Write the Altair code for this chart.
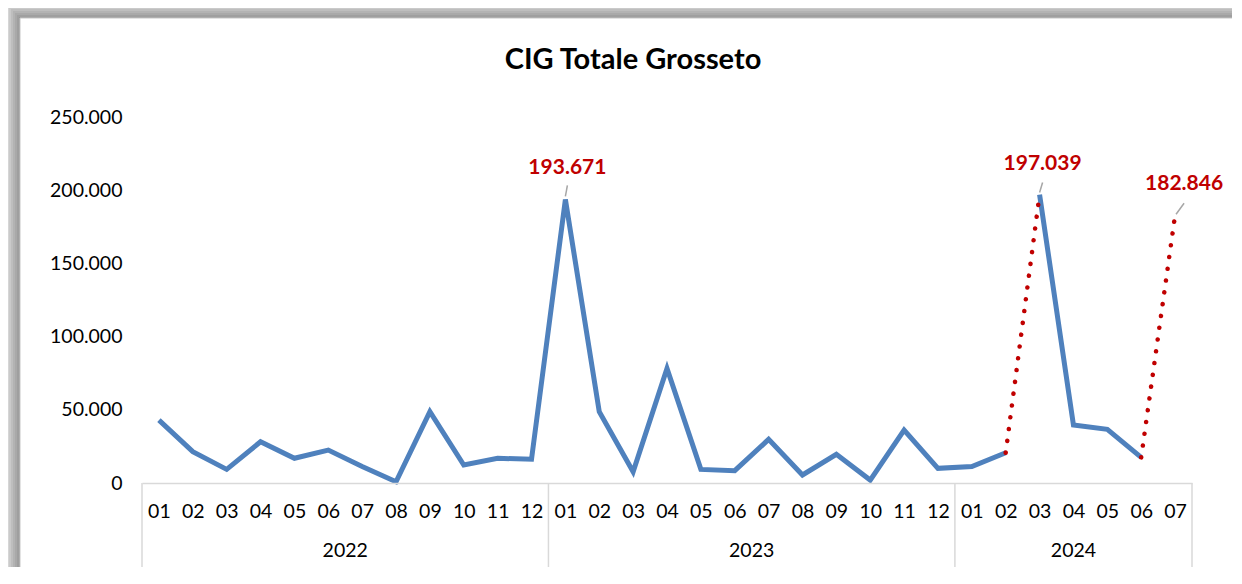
import altair as alt
import pandas as pd

# ---------------- data ----------------
years = ["2022", "2023", "2024"]
months_per_year = [12, 12, 7]
month_labels = (
    ["01", "02", "03", "04", "05", "06", "07", "08", "09", "10", "11", "12"]
    + ["01", "02", "03", "04", "05", "06", "07", "08", "09", "10", "11", "12"]
    + ["01", "02", "03", "04", "05", "06", "07"]
)
values = [
    # 2022
    43000, 21400, 9300, 28200, 16900, 22500, 11300, 800, 48700, 12300, 16900, 16200,
    # 2023
    193671, 48700, 7700, 78300, 9300, 8400, 29800, 5500, 19600, 2000, 36200, 10000,
    # 2024
    11200, 20700, 197039, 39600, 36700, 17500, 182846,
]
# index ranges of the solid (blue) segments and of the dotted (red) jumps
solid_segments = [(0, 25), (26, 29)]
dotted_segments = [(25, 26), (29, 30)]
labelled_points = [12, 26, 30]

FONT = "Lato"
BLUE = "#4F81BD"
RED = "#C00000"
GRID = "#D9D9D9"
AXFS = 19.5


def it(v):
    return f"{v:,}".replace(",", ".")


n = len(values)
pos = [i + 0.5 for i in range(n)]

solid_rows = []
for s, (a, b) in enumerate(solid_segments):
    for i in range(a, b + 1):
        solid_rows.append({"pos": pos[i], "value": values[i], "seg": f"s{s}"})
solid_df = pd.DataFrame(solid_rows)

dot_rows = []
for s, (a, b) in enumerate(dotted_segments):
    for i in range(a, b + 1):
        dot_rows.append({"pos": pos[i], "value": values[i], "seg": f"d{s}"})
dot_df = pd.DataFrame(dot_rows)

lab_df = [
    pd.DataFrame({"pos": [pos[i]], "value": [values[i]], "txt": [it(values[i])]})
    for i in labelled_points
]

bounds = [0]
for m in months_per_year:
    bounds.append(bounds[-1] + m)
sep_df = pd.DataFrame({"pos": bounds})
year_df = pd.DataFrame(
    {"pos": [(bounds[k] + bounds[k + 1]) / 2 for k in range(len(years))], "year": years}
)

# ---------------- encodings ----------------
months_js = "[" + ",".join(f"'{m}'" for m in month_labels) + "]"
X = alt.X(
    "pos:Q",
    scale=alt.Scale(domain=[0, n], nice=False, zero=False),
    axis=alt.Axis(
        values=pos,
        labelExpr=months_js + "[floor(datum.value)]",
        title=None,
        grid=False,
        ticks=False,
        tickSize=0,
        domain=True,
        domainColor=GRID,
        domainWidth=1.5,
        labelFont=FONT,
        labelFontSize=AXFS,
        labelColor="#000000",
        labelBaseline="middle",
        labelPadding=28,
        labelAngle=0,
        labelOverlap=False,
        labelFlush=False,
        zindex=1,
    ),
)
Y = alt.Y(
    "value:Q",
    scale=alt.Scale(domain=[0, 250000], nice=False),
    axis=alt.Axis(
        values=[0, 50000, 100000, 150000, 200000, 250000],
        labelExpr="replace(format(datum.value, ','), ',', '.')",
        title=None,
        grid=False,
        ticks=False,
        tickSize=0,
        domain=False,
        labelFont=FONT,
        labelFontSize=AXFS,
        labelColor="#000000",
        labelPadding=20,
        zindex=1,
    ),
)

one = pd.DataFrame({"a": [0]})
OX, OY = 142, 117  # plot origin on the page


def deco_rect(x1, y1, x2, y2, **kw):
    return alt.Chart(one).mark_rect(**kw).encode(
        x=alt.value(x1 - OX), x2=alt.value(x2 - OX),
        y=alt.value(y1 - OY), y2=alt.value(y2 - OY),
    )


layers = []
# frame shadow
for k in range(9):
    layers.append(deco_rect(3 + 2 * k, 1 + 2 * k, 1400, 700, fill="#000000", opacity=0.055))
layers.append(deco_rect(20, 18, 1400, 700, fill="#FFFFFF", stroke="#C8C8C8", strokeWidth=1))

# title
layers.append(
    alt.Chart(one).mark_text(
        text="CIG Totale Grosseto", font=FONT, fontSize=29, fontWeight="bold",
        color="#000000", align="center", baseline="middle",
    ).encode(x=alt.value(633 - OX), y=alt.value(60 - OY))
)

# year separators and labels
layers.append(
    alt.Chart(sep_df).mark_rule(color=GRID, strokeWidth=1.5).encode(
        x=X, y=alt.value(483 - OY), y2=alt.value(567 - OY)
    )
)
layers.append(
    alt.Chart(year_df).mark_text(
        font=FONT, fontSize=AXFS, color="#000000", align="center", baseline="middle"
    ).encode(x=X, y=alt.value(551 - OY), text="year:N")
)

# lines
layers.append(
    alt.Chart(solid_df).mark_line(color=BLUE, strokeWidth=5).encode(x=X, y=Y, detail="seg:N")
)
layers.append(
    alt.Chart(dot_df).mark_line(
        color=RED, strokeWidth=4.5, strokeDash=[0.1, 11.8], strokeCap="round"
    ).encode(x=X, y=Y, detail="seg:N")
)

# data labels with leader lines
label_offsets = [
    # (dx, dy, rule start x, start y, end x, end y)
    (2, -31, 0, -3, 2, -14),
    (3, -31, 0, -2, 3, -12),
    (9, -31, 1, -1, 9, -12),
]
for d, (dx, dy, sx, sy, ex, ey) in zip(lab_df, label_offsets):
    layers.append(
        alt.Chart(d).mark_rule(
            color="#A6A6A6", strokeWidth=1.5,
            xOffset=sx, yOffset=sy, x2Offset=ex, y2Offset=ey,
        ).encode(x=X, y=Y, x2="pos:Q", y2="value:Q")
    )
    layers.append(
        alt.Chart(d).mark_text(
            font=FONT, fontSize=21, fontWeight="bold", color=RED,
            align="center", baseline="middle", dx=dx, dy=dy,
        ).encode(x=X, y=Y, text="txt:N")
    )

chart = (
    alt.layer(*layers)
    .properties(
        width=1050,
        height=366,
        padding={"left": 134, "top": 109, "right": 40, "bottom": 84},
        autosize=alt.AutoSizeParams(type="none"),
        background="#FFFFFF",
    )
    .configure_view(stroke=None)
)

chart.save("out.html", embed_options={"renderer": "svg", "actions": False})
